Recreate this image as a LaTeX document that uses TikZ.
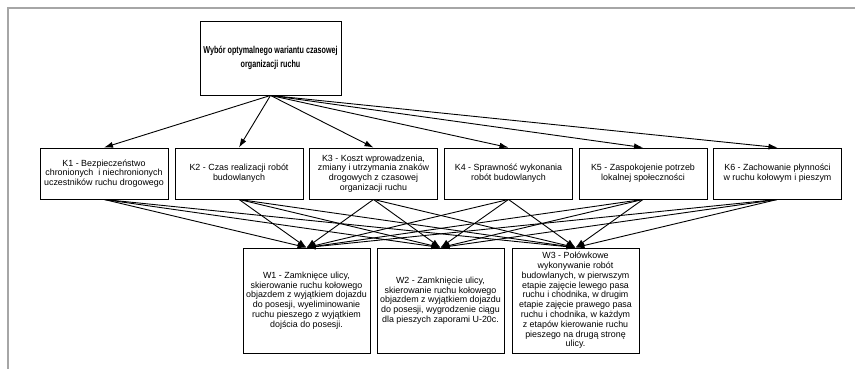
\documentclass[tikz,border=0pt]{standalone}
\usepackage{fontspec}
\setmainfont{Liberation Sans}
\newfontfamily\titlefont[FakeStretch=0.72]{Liberation Sans}
\usetikzlibrary{arrows.meta}

\begin{document}
\begin{tikzpicture}[
		x=1pt, y=-1pt,
		every node/.style={font=\fontsize{8.9}{9.8}\selectfont, align=center, draw, line width=0.9pt, inner sep=0pt},
		crit/.style={minimum width=128pt, minimum height=51pt},
		vari/.style={minimum width=127pt, minimum height=105pt},
		link/.style={line width=0.9pt, -{Latex[length=9pt,width=6pt]}}
		]
		\useasboundingbox (0,0) rectangle (855,369);
		\draw[gray!70, line width=1.5pt] (8,369) -- (8,8) -- (855,8);
		% goal
		\node[minimum width=141pt, minimum height=74pt, font=\titlefont\bfseries\fontsize{10}{14}\selectfont] (goal) at (270.5,58) {Wybór optymalnego wariantu czasowej\\organizacji ruchu};
		% criteria
		\node[crit] (k1) at (104,173.5) {K1 - Bezpieczeństwo\\chronionych\ \ i niechronionych\\uczestników ruchu drogowego};
		\node[crit] (k2) at (239,173.5) {K2 - Czas realizacji robót\\budowlanych};
		\node[crit] (k3) at (373.5,173.5) {K3 - Koszt wprowadzenia,\\zmiany i utrzymania znaków\\drogowych z czasowej\\organizacji ruchu};
		\node[crit] (k4) at (508.5,173.5) {K4 - Sprawność wykonania\\robót budowlanych};
		\node[crit] (k5) at (643,173.5) {K5 - Zaspokojenie potrzeb\\lokalnej społeczności};
		\node[crit] (k6) at (777.5,173.5) {K6 - Zachowanie płynności\\w ruchu kołowym i pieszym};
		% variants
		\node[vari] (w1) at (306.5,300.5) {W1 - Zamknięce ulicy,\\skierowanie ruchu kołowego\\objazdem z wyjątkiem dojazdu\\do posesji, wyeliminowanie\\ruchu pieszego z wyjątkiem\\dojścia do posesji.};
		\node[vari] (w2) at (440.5,300.5) {W2 - Zamknięcie ulicy,\\skierowanie ruchu kołowego\\objazdem z wyjątkiem dojazdu\\do posesji, wygrodzenie ciągu\\dla pieszych zaporami U-20c.};
		\node[vari] (w3) at (575.5,300.5) {W3 - Połówkowe\\wykonywanie robót\\budowlanych, w pierwszym\\etapie zajęcie lewego pasa\\ruchu i chodnika, w drugim\\etapie zajęcie prawego pasa\\ruchu i chodnika, w każdym\\z etapów kierowanie ruchu\\pieszego na drugą stronę\\ulicy.};
		% connections
		\foreach \i in {1,...,6} {
			\draw[link] (goal.south) -- (k\i.north);
			\foreach \j in {1,2,3}
				\draw[link] (k\i.south) -- (w\j.north);
		}
	\end{tikzpicture}
\end{document}
